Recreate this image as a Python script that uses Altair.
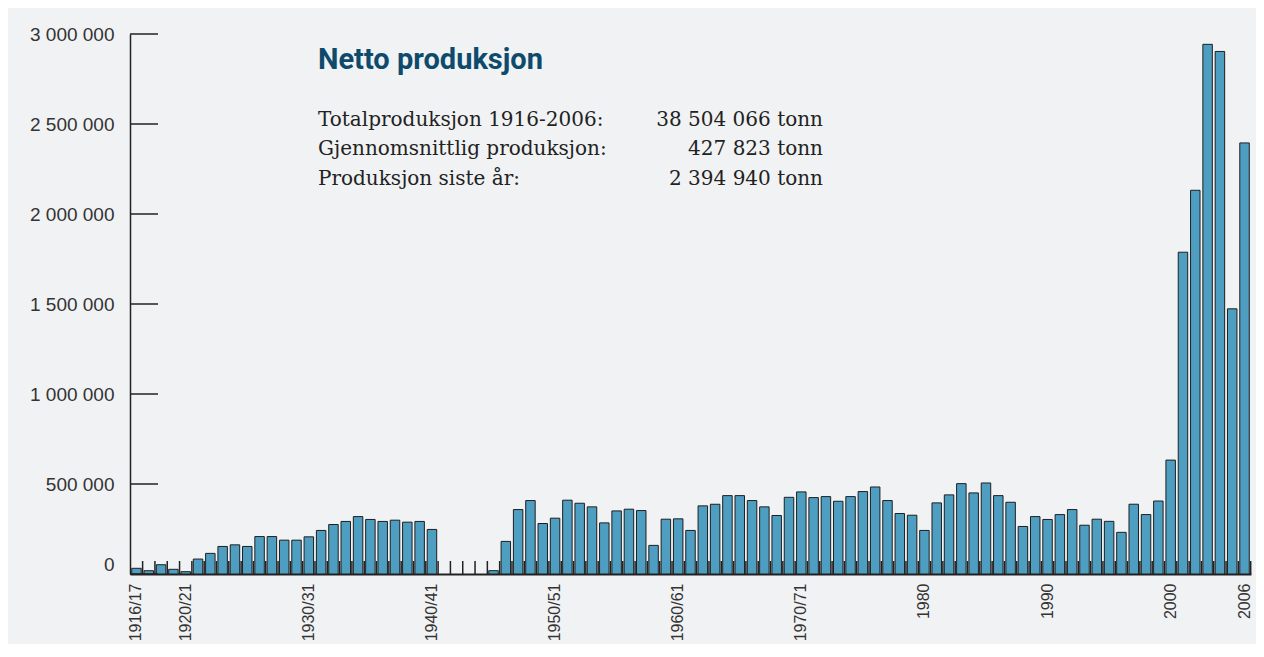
import altair as alt
import pandas as pd

# ---------------- data ----------------
years = list(range(1916, 2007))
production = [
    31600, 18300, 51500, 26000, 12900, 83000, 114500, 153000, 162000, 153000,
    208000, 208000, 188000, 188000, 206500, 242000, 275000, 292000, 319000, 303000,
    292000, 299000, 288000, 292000, 247500, None, None, None, None, 18500,
    181000, 358000, 408000, 280500, 310000, 410000, 393000, 373000, 284000, 350500,
    360000, 352500, 159000, 304500, 306500, 242000, 378500, 387500, 435500, 435500,
    408000, 373000, 325000, 426000, 456000, 424500, 430000, 404000, 430000, 458000,
    483500, 408000, 336000, 326500, 242000, 395000, 439500, 502000, 450500, 505700,
    435500, 398600, 264000, 319000, 303000, 330000, 358000, 271000, 304500, 292500,
    231400, 387600, 330200, 405400, 632800, 1787700, 2131700, 2942600, 2903000, 1473200,
    2394940,
]
label_years = [1916, 1920, 1930, 1940, 1950, 1960, 1970, 1980, 1990, 2000, 2006]
label_texts = ["1916/17", "1920/21", "1930/31", "1940/41", "1950/51", "1960/61",
               "1970/71", "1980", "1990", "2000", "2006"]
y_ticks = [0, 500000, 1000000, 1500000, 2000000, 2500000, 3000000]
title_text = "Netto produksjon"
stat_labels = ["Totalproduksjon 1916-2006:", "Gjennomsnittlig produksjon:", "Produksjon siste år:"]
stat_values = ["38 504 066 tonn", "427 823 tonn", "2 394 940 tonn"]

# ---------------- layout ----------------
W, H = 1121, 540
PAD_INNER = 0.23
STEP = W / (len(years) - PAD_INNER + 2 * 0.14)

df = pd.DataFrame({"year": years, "tonn": production})
yt = pd.DataFrame({"tonn": y_ticks})

label_expr = "''"
for yv, txt in reversed(list(zip(label_years, label_texts))):
    label_expr = f"datum.value == {yv} ? '{txt}' : ({label_expr})"

y_label_expr = "replace(format(datum.value, ','), regexp(',', 'g'), ' ')"

x_scale = alt.Scale(domain=years, paddingInner=PAD_INNER, paddingOuter=0.14)
y_scale = alt.Scale(domain=[0, 3000000], nice=False)

AX_FONT = "Liberation Sans"
X_FONT = "Liberation Sans Narrow, Liberation Sans, Arial"

x_axis = alt.Axis(values=label_years, labelExpr=label_expr, labelAngle=270,
                  labelFont=X_FONT, labelFontSize=16, labelColor="#333333",
                  labelPadding=9, ticks=False, tickSize=0,
                  domainColor="#222222", domainWidth=2, grid=False)
y_axis = alt.Axis(values=y_ticks, labelExpr=y_label_expr, ticks=False, tickSize=0,
                  labelPadding=16, labelFont=AX_FONT, labelFontSize=19,
                  labelColor="#333333", domainColor="#222222", domainWidth=1.5,
                  grid=False,
                  labelBaseline={"condition": {"test": "datum.value === 0", "value": "bottom"},
                                 "value": "middle"})

bars = alt.Chart(df).mark_bar(fill="#4e9ec2", stroke="#1f1f1f", strokeWidth=1).encode(
    x=alt.X("year:O", scale=x_scale, title=None, axis=x_axis),
    y=alt.Y("tonn:Q", scale=y_scale, title=None, axis=y_axis),
)

xticks = alt.Chart(df).mark_rule(color="#222222", strokeWidth=1.5, xOffset=STEP * PAD_INNER / 2).encode(
    x=alt.X("year:O", bandPosition=1, scale=x_scale, title=None, axis=x_axis),
    y=alt.value(H - 13),
    y2=alt.value(H),
)

yticks = alt.Chart(yt).mark_rule(color="#222222", strokeWidth=1.5).encode(
    y=alt.Y("tonn:Q", scale=y_scale, title=None, axis=y_axis),
    x=alt.value(0),
    x2=alt.value(28),
)

one = alt.Data(values=[{}])
texts = [
    alt.Chart(one).mark_text(align="left", baseline="alphabetic", font="Roboto",
                             fontWeight="bold", fontSize=29, color="#0d4a6c").encode(
        x=alt.value(188), y=alt.value(35), text=alt.value(title_text))
]
row_y = [91.5, 121, 150.5]
for lab, val, ry in zip(stat_labels, stat_values, row_y):
    texts.append(alt.Chart(one).mark_text(align="left", baseline="alphabetic", font="DejaVu Serif",
                                          fontSize=20, color="#222222").encode(
        x=alt.value(188), y=alt.value(ry), text=alt.value(lab)))
    texts.append(alt.Chart(one).mark_text(align="right", baseline="alphabetic", font="DejaVu Serif",
                                          fontSize=20, color="#222222").encode(
        x=alt.value(693), y=alt.value(ry), text=alt.value(val)))

chart = alt.layer(bars, xticks, yticks, *texts).properties(
    width=W, height=H, background="#f1f2f4",
    padding={"left": 122, "top": 26, "right": 5, "bottom": 70},
    autosize=alt.AutoSizeParams(type="none"),
).configure_view(stroke=None)

chart.save("out.html", embed_options={"renderer": "svg", "actions": False})
